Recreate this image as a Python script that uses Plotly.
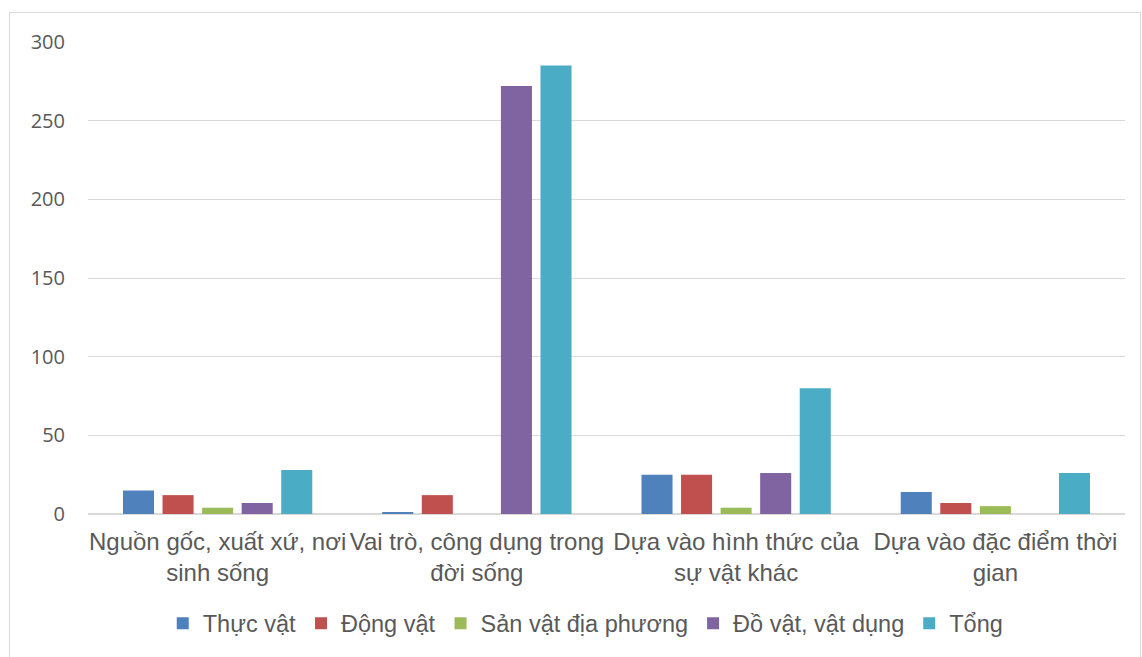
import plotly.graph_objects as go

categories = [
    "Nguồn gốc, xuất xứ, nơi<br>sinh sống",
    "Vai trò, công dụng trong<br>đời sống",
    "Dựa vào hình thức của<br>sự vật khác",
    "Dựa vào đặc điểm thời<br>gian",
]
series_names = ["Thực vật", "Động vật", "Sản vật địa phương", "Đồ vật, vật dụng", "Tổng"]
thuc_vat = [15, 1, 25, 14]
dong_vat = [12, 12, 25, 7]
san_vat = [4, 0, 4, 5]
do_vat = [7, 272, 26, 0]
tong = [28, 285, 80, 26]
colors = ["#4F81BD", "#C0504D", "#9BBB59", "#8064A2", "#4BACC6"]
y_ticks = [0, 50, 100, 150, 200, 250, 300]

series_values = [thuc_vat, dong_vat, san_vat, do_vat, tong]

fig = go.Figure()
for name, vals, col in zip(series_names, series_values, colors):
    fig.add_trace(go.Bar(x=categories, y=vals, name=name, marker=dict(color=col, line=dict(width=0))))

W, H = 1142, 657
L, R, T, B = 88, 17, 42, 142.5
pw, ph = W - L - R, H - T - B

def px_x(p):
    return (p - L) / pw

def px_y(p):
    return (H - B - p) / ph

fig.add_shape(type="rect", xref="paper", yref="paper",
              x0=px_x(9.5), x1=px_x(1140.5), y0=px_y(660), y1=px_y(12.5),
              line=dict(color="#D9D9D9", width=1), fillcolor="rgba(0,0,0,0)", layer="below")

fig.update_layout(
    width=W, height=H,
    margin=dict(l=L, r=R, t=T, b=B),
    paper_bgcolor="white", plot_bgcolor="white",
    barmode="group", bargap=0.237, bargroupgap=0.215,
    font=dict(family="Liberation Sans, Arial", color="#595959"),
    showlegend=True,
    legend=dict(orientation="h", x=0.48, xanchor="center", y=px_y(624), yanchor="middle",
                font=dict(size=23.5, color="#595959"), tracegroupgap=0),
    xaxis=dict(showgrid=False, showline=False, ticks="", tickfont=dict(size=24, color="#595959"),
               tickangle=0, ticklabelstandoff=11),
    yaxis=dict(range=[0, 300], tickvals=y_ticks, showgrid=True, gridcolor="#D9D9D9", gridwidth=1,
               zeroline=True, zerolinecolor="#D9D9D9", zerolinewidth=2,
               tickfont=dict(family="Open Sans, Noto Sans", size=20, color="#595959"),
               ticklabelstandoff=22, showline=False),
)

fig.write_html("out.html")
